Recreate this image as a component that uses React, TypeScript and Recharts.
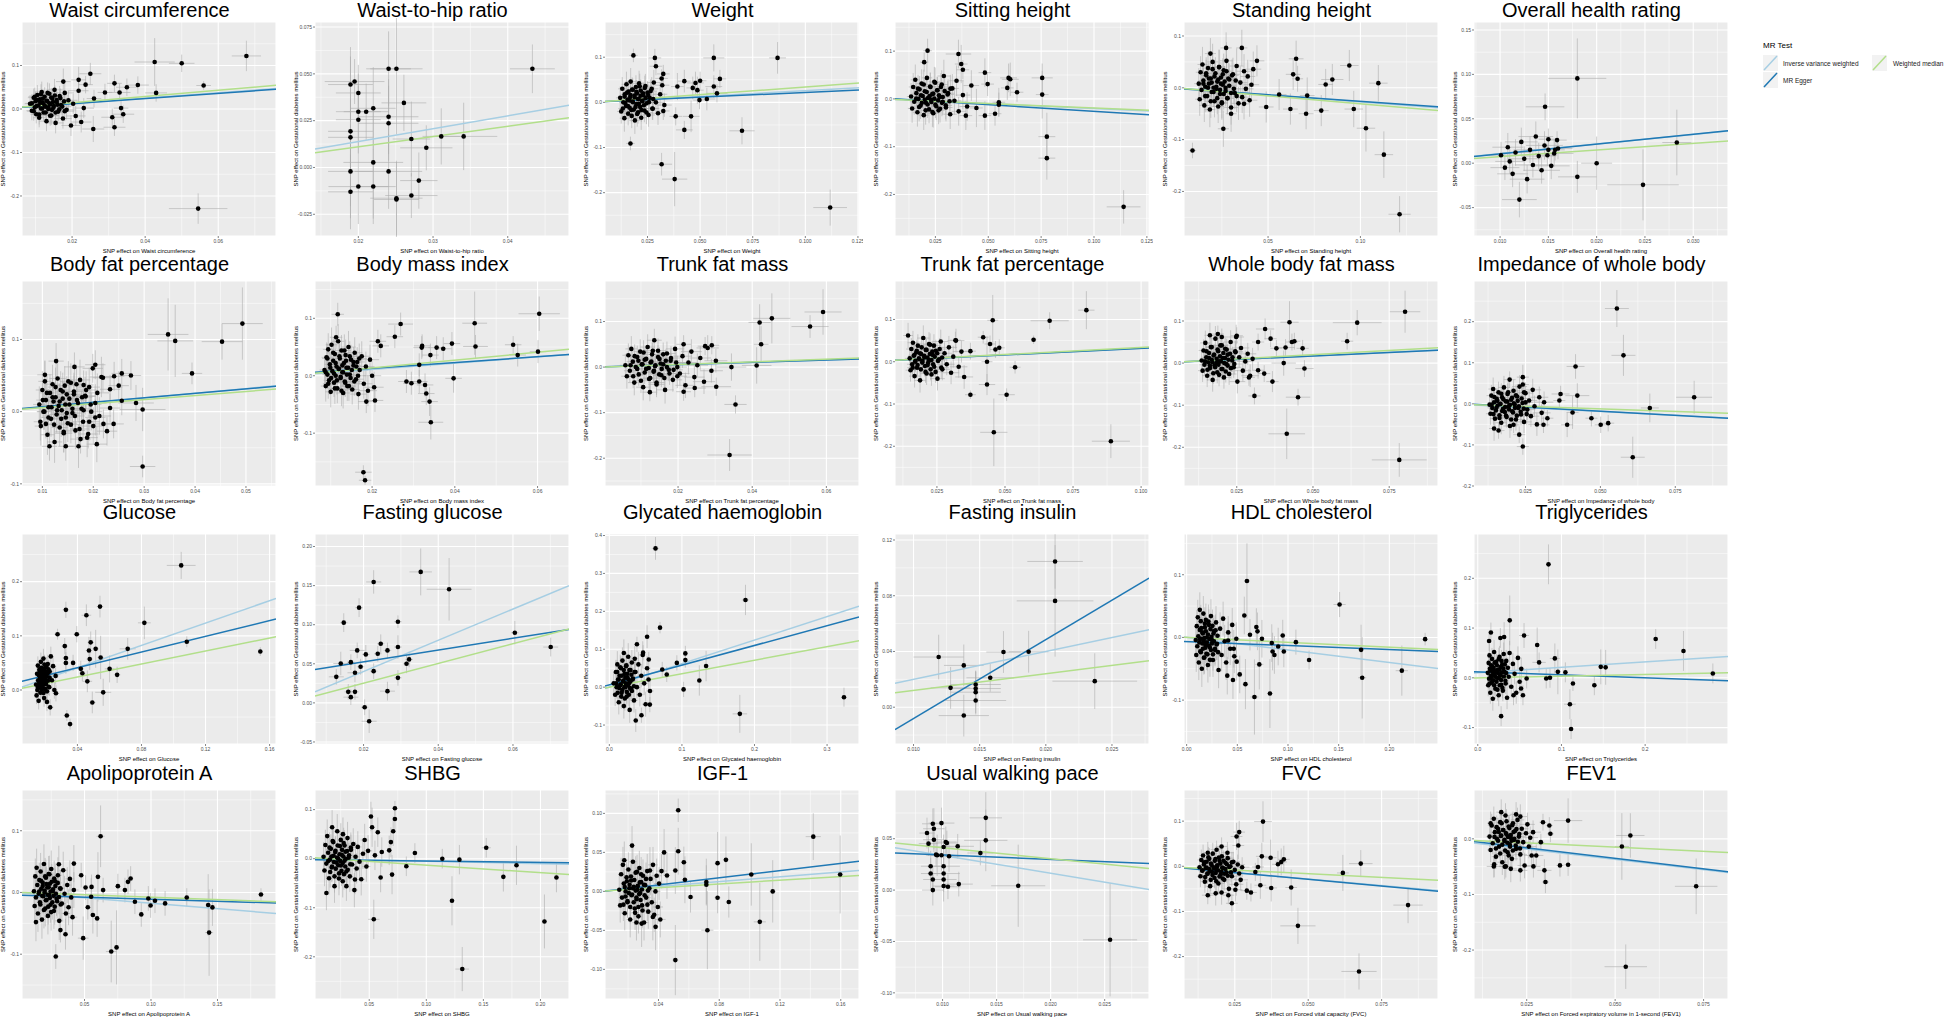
import React from "react";
import { CartesianGrid, ComposedChart, ErrorBar, ReferenceLine, Scatter, XAxis, YAxis } from "recharts";

// [beta exposure, beta outcome, se exposure, se outcome]
type Snp = [number, number, number, number];
type Fit = [number, number]; // slope, intercept

const titles = [
  "Waist circumference", "Waist-to-hip ratio", "Weight", "Sitting height", "Standing height", "Overall health rating",
  "Body fat percentage", "Body mass index", "Trunk fat mass", "Trunk fat percentage", "Whole body fat mass", "Impedance of whole body",
  "Glucose", "Fasting glucose", "Glycated haemoglobin", "Fasting insulin", "HDL cholesterol", "Triglycerides",
  "Apolipoprotein A", "SHBG", "IGF-1", "Usual walking pace", "FVC", "FEV1",
];

const exposureLabels = [
  "Waist circumference", "Waist-to-hip ratio", "Weight", "Sitting height", "Standing height", "Overall health rating",
  "Body fat percentage", "Body mass index", "Trunk fat percentage", "Trunk fat mass", "Whole body fat mass", "Impedance of whole body",
  "Glucose", "Fasting glucose", "Glycated haemoglobin", "Fasting insulin", "HDL cholesterol", "Triglycerides",
  "Apolipoprotein A", "SHBG", "IGF-1", "Usual walking pace", "Forced vital capacity (FVC)", "Forced expiratory volume in 1-second (FEV1)",
];

const outcomeLabel = "SNP effect on Gestational diabetes mellitus";

const xDomains: [number, number][] = [
  [0.0063, 0.0758], [0.0142, 0.0482], [0.0048, 0.1255], [0.0059, 0.126], [0.0045, 0.142], [0.0073, 0.0336],
  [0.006, 0.0559], [0.0062, 0.0676], [0.0003, 0.0688], [0.0096, 0.1029], [0.0077, 0.091], [0.0078, 0.0926],
  [0.0054, 0.164], [0.007, 0.075], [-0.006, 0.344], [0.0086, 0.0278], [-0.0026, 0.248], [-0.0045, 0.299],
  [0.003, 0.194], [0.0025, 0.225], [0.0048, 0.172], [0.0056, 0.0291], [0.0077, 0.0942], [0.0101, 0.0819],
];

const yDomains: [number, number][] = [
  [-0.292, 0.2], [-0.0366, 0.0777], [-0.296, 0.178], [-0.287, 0.161], [-0.286, 0.127], [-0.082, 0.159],
  [-0.103, 0.181], [-0.192, 0.165], [-0.261, 0.189], [-0.294, 0.191], [-0.292, 0.195], [-0.2, 0.299],
  [-0.0997, 0.288], [-0.0526, 0.216], [-0.15, 0.404], [-0.0264, 0.1243], [-0.17, 0.165], [-0.133, 0.289],
  [-0.1726, 0.166], [-0.286, 0.14], [-0.138, 0.13], [-0.106, 0.0974], [-0.294, 0.169], [-0.288, 0.0878],
];

const xTicks = [
  [0.02, 0.04, 0.06], [0.02, 0.03, 0.04], [0.025, 0.05, 0.075, 0.1, 0.125], [0.025, 0.05, 0.075, 0.1, 0.125], [0.05, 0.1], [0.01, 0.015, 0.02, 0.025, 0.03],
  [0.01, 0.02, 0.03, 0.04, 0.05], [0.02, 0.04, 0.06], [0.02, 0.04, 0.06], [0.025, 0.05, 0.075, 0.1], [0.025, 0.05, 0.075], [0.025, 0.05, 0.075],
  [0.04, 0.08, 0.12, 0.16], [0.02, 0.04, 0.06], [0, 0.1, 0.2, 0.3], [0.01, 0.015, 0.02, 0.025], [0, 0.05, 0.1, 0.15, 0.2], [0, 0.1, 0.2],
  [0.05, 0.1, 0.15], [0.05, 0.1, 0.15, 0.2], [0.04, 0.08, 0.12, 0.16], [0.01, 0.015, 0.02, 0.025], [0.025, 0.05, 0.075], [0.025, 0.05, 0.075],
];
const xDigits = [2, 2, 3, 3, 2, 3, 2, 2, 2, 3, 3, 3, 2, 2, 1, 3, 2, 1, 2, 2, 2, 3, 3, 3];

const yTicks = [
  [-0.2, -0.1, 0, 0.1], [-0.025, 0, 0.025, 0.05, 0.075], [-0.2, -0.1, 0, 0.1], [-0.2, -0.1, 0, 0.1], [-0.2, -0.1, 0, 0.1], [-0.05, 0, 0.05, 0.1, 0.15],
  [-0.1, 0, 0.1], [-0.1, 0, 0.1], [-0.2, -0.1, 0, 0.1], [-0.2, -0.1, 0, 0.1], [-0.2, -0.1, 0, 0.1], [-0.2, -0.1, 0, 0.1, 0.2],
  [0, 0.1, 0.2], [-0.05, 0, 0.05, 0.1, 0.15, 0.2], [-0.1, 0, 0.1, 0.2, 0.3, 0.4], [0, 0.04, 0.08, 0.12], [-0.1, 0, 0.1], [-0.1, 0, 0.1, 0.2],
  [-0.1, 0, 0.1], [-0.2, -0.1, 0, 0.1], [-0.1, -0.05, 0, 0.05, 0.1], [-0.1, -0.05, 0, 0.05], [-0.2, -0.1, 0, 0.1], [-0.2, -0.1, 0],
];
const yDigits = [1, 3, 1, 1, 1, 2, 1, 1, 1, 1, 1, 1, 1, 2, 1, 2, 1, 1, 1, 1, 2, 2, 1, 1];

const ivwFits: Fit[] = [
  [0.62, 0], [0.69, 0], [0.26, 0], [-0.2, 0], [-0.27, 0], [1.08, 0],
  [0.64, 0], [0.55, 0], [0.26, 0], [0.32, 0], [0.34, 0], [-0.37, 0],
  [1.03, 0], [2.0, 0], [0.62, 0], [2.0, 0], [-0.2, 0], [0.11, 0.01],
  [-0.175, 0], [-0.051, 0], [0.156, 0], [-1.73, 0.051], [-0.57, 0], [-0.74, 0],
];
const eggerFits: Fit[] = [
  [0.6, 0], [-1, 0.15], [0.21, 0.001], [-0.28, 0.002], [-0.25, -0.001], [1.1, -0.0005],
  [0.62, 0.0005], [0.5, 0.003], [0.25, 0.0005], [0.31, 0.0005], [0.33, 0.0005], [-0.4, 0.002],
  [0.725, 0.012], [0.754, 0.0374], [0.52, 0.006], [5.66, -0.0647], [-0.064, -0.0066], [-0.06, 0.012],
  [-0.065, -0.0045], [-0.027, -0.002], [0.23, -0.001], [-0.44, 0.0386], [-0.6, 0.001], [-0.76, 0.003],
];
const medianFits: Fit[] = [
  [0.72, 0], [0.55, 0], [0.34, 0], [-0.19, 0], [-0.31, 0], [0.74, 0],
  [0.56, 0], [0.68, 0], [0.29, 0], [0.34, 0], [0.4, 0], [-0.25, 0],
  [0.6, 0], [1.26, 0], [0.355, 0], [1.2, 0], [-0.078, 0], [0.034, 0],
  [-0.077, 0], [-0.155, 0.0024], [0.119, 0], [-1.055, 0.0517], [-0.33, 0], [-0.3, 0],
];

// dense cores of the instrument clouds
const waistCore: Snp[] = [
  [.009,.013,.0018,.02],[.0095,-.005,.0018,.022],[.0098,.028,.0018,.021],[.0103,.007,.0019,.02],[.0105,.0205,.0019,.022],[.011,-.0125,.0019,.023],[.0113,.0145,.0019,.02],[.0115,.034,.002,.023],[.0118,.001,.002,.021],[.012,.0235,.002,.022],[.0125,.0085,.002,.02],[.0128,-.008,.0021,.022],[.013,.019,.0021,.021],[.0133,.037,.0021,.024],[.0135,.004,.0021,.02],[.0138,.013,.0022,.021],[.014,-.0155,.0022,.023],[.0143,.0265,.0022,.022],[.0145,-.002,.0022,.021],[.0148,.016,.0023,.02],[.015,.007,.0023,.021],[.0153,.031,.0023,.023],[.0155,-.008,.0023,.022],[.0158,.0205,.0024,.021],[.016,.01,.0024,.02],[.0165,-.0005,.0024,.022],[.0168,.025,.0025,.022],[.0173,.0055,.0025,.021],[.0178,.0175,.0025,.022],[.018,-.005,.0026,.023],
];
const weightCore: Snp[] = [
  [.0133,-.0135,.0022,.026],[.0141,.0128,.0022,.024],[.0145,-.0013,.0023,.025],[.0153,.0215,.0023,.026],[.0157,-.0083,.0023,.024],[.0165,.004,.0024,.025],[.0169,.0163,.0024,.024],[.0173,-.017,.0024,.027],[.0177,.0285,.0025,.027],[.0181,.0005,.0025,.024],[.0189,.011,.0025,.025],[.0193,-.01,.0026,.024],[.0197,.0233,.0026,.026],[.0201,-.0258,.0026,.028],[.0205,.0075,.0026,.024],[.0209,-.003,.0027,.025],[.0213,.0355,.0027,.028],[.0217,.0145,.0027,.025],[.0221,-.017,.0027,.026],[.0225,.0023,.0028,.024],[.0229,.0198,.0028,.025],[.0233,-.0065,.0028,.024],[.0237,.032,.0029,.027],[.0241,.0093,.0029,.025],[.0245,-.0223,.0029,.026],[.0253,.0163,.003,.025],[.0257,.0005,.003,.024],[.0265,.025,.003,.026],[.0273,-.0135,.0031,.025],[.0277,.0075,.0031,.025],
];
const sittingCore: Snp[] = [
  [.0159,.0005,.0022,.028],[.0168,.0215,.0022,.029],[.0173,-.017,.0023,.03],[.0182,.0075,.0023,.027],[.0186,-.0083,.0023,.028],[.0195,.0303,.0024,.031],[.02,-.0013,.0024,.027],[.0204,-.024,.0024,.03],[.0209,.0145,.0025,.028],[.0213,-.0118,.0025,.028],[.0222,.0058,.0025,.027],[.0227,.025,.0026,.03],[.0231,-.0065,.0026,.028],[.0236,-.0275,.0026,.031],[.024,.011,.0026,.028],[.0245,.0005,.0027,.027],[.0249,.0338,.0027,.032],[.0254,-.0153,.0027,.029],[.0258,.018,.0028,.028],[.0263,-.003,.0028,.027],[.0267,.0075,.0028,.028],[.0272,-.0205,.0029,.029],[.0276,.025,.0029,.029],[.0281,-.0083,.0029,.028],[.0285,.004,.003,.027],[.0294,.0163,.003,.028],[.0299,-.0135,.003,.029],[.0308,.0093,.0031,.028],[.0317,-.0048,.0031,.028],[.0321,.0215,.0032,.029],
];
const standingCore: Snp[] = [
  [.015,.008,.0027,.03],[.016,-.016,.0027,.031],[.0165,.028,.0028,.031],[.0175,0,.0028,.029],[.018,.018,.0029,.03],[.019,-.026,.0029,.032],[.0195,.01,.0029,.03],[.02,.036,.003,.033],[.0205,-.008,.003,.029],[.021,.022,.003,.03],[.022,.002,.0031,.029],[.0225,-.02,.0031,.031],[.023,.016,.0031,.03],[.0235,.04,.0032,.034],[.024,-.004,.0032,.029],[.0245,.008,.0032,.03],[.025,-.03,.0033,.032],[.0255,.026,.0033,.031],[.026,-.012,.0033,.03],[.0265,.012,.0034,.03],[.027,0,.0034,.029],[.0275,.032,.0034,.032],[.028,-.02,.0035,.031],[.0285,.018,.0035,.03],[.029,.004,.0035,.029],[.03,-.01,.0036,.03],[.0305,.024,.0036,.031],[.0315,-.002,.0037,.03],[.0325,.014,.0037,.03],[.033,-.016,.0038,.031],
];
const bodyFatCore: Snp[] = [
  [.0096,-.014,.0013,.026],[.0101,.016,.0013,.025],[.0104,0,.0014,.025],[.0109,.026,.0014,.026],[.0112,-.008,.0014,.025],[.0118,.006,.0015,.025],[.012,.02,.0015,.025],[.0123,-.018,.0015,.026],[.0126,.034,.0015,.027],[.0129,.002,.0016,.025],[.0134,.014,.0016,.025],[.0137,-.01,.0016,.025],[.014,.028,.0016,.026],[.0142,-.028,.0017,.028],[.0145,.01,.0017,.025],[.0148,-.002,.0017,.025],[.0151,.042,.0017,.028],[.0153,.018,.0018,.025],[.0156,-.018,.0018,.026],[.0159,.004,.0018,.025],[.0162,.024,.0018,.026],[.0164,-.006,.0019,.025],[.0167,.038,.0019,.027],[.017,.012,.0019,.025],[.0173,-.024,.0019,.027],[.0178,.02,.002,.025],[.0181,.002,.002,.025],[.0186,.03,.002,.026],[.0192,-.014,.0021,.026],[.0195,.01,.0021,.025],
];
const bmiCore: Snp[] = [
  [.0088,.006,.0012,.025],[.0092,.03,.0013,.026],[.0094,-.014,.0013,.026],[.0099,.014,.0013,.025],[.0101,-.004,.0013,.025],[.0106,.04,.0014,.027],[.0108,.004,.0014,.025],[.011,-.022,.0014,.027],[.0112,.022,.0014,.025],[.0115,-.008,.0015,.025],[.0119,.012,.0015,.025],[.0121,.034,.0015,.026],[.0124,-.002,.0015,.025],[.0126,-.026,.0016,.027],[.0128,.018,.0016,.025],[.013,.006,.0016,.025],[.0133,.044,.0016,.028],[.0135,-.012,.0016,.025],[.0137,.026,.0017,.026],[.0139,.002,.0017,.025],[.0142,.014,.0017,.025],[.0144,-.018,.0017,.026],[.0146,.034,.0017,.026],[.0148,-.004,.0018,.025],[.0151,.01,.0018,.025],[.0155,.024,.0018,.026],[.0157,-.01,.0018,.025],[.0162,.016,.0019,.025],[.0166,0,.0019,.025],[.0169,.03,.0019,.026],
];
const trunkMassCore: Snp[] = [
  [.0072,.004,.0016,.025],[.0079,-.02,.0017,.026],[.0083,.024,.0017,.026],[.009,-.004,.0017,.025],[.0093,.014,.0018,.025],[.01,-.03,.0018,.027],[.0104,.006,.0018,.025],[.0107,.032,.0019,.027],[.011,-.012,.0019,.025],[.0114,.018,.0019,.025],[.0121,-.002,.002,.025],[.0125,-.024,.002,.026],[.0128,.012,.002,.025],[.0132,.036,.0021,.027],[.0135,-.008,.0021,.025],[.0139,.004,.0021,.025],[.0142,-.034,.0022,.027],[.0146,.022,.0022,.026],[.0149,-.016,.0022,.025],[.0153,.008,.0023,.025],[.0156,-.004,.0023,.025],[.016,.028,.0023,.026],[.0163,-.024,.0024,.026],[.0167,.014,.0024,.025],[.017,0,.0024,.025],[.0177,-.014,.0025,.025],[.0181,.02,.0025,.026],[.0188,-.006,.0025,.025],[.0195,.01,.0026,.025],[.0198,-.02,.0026,.026],
];
const trunkPctCore: Snp[] = [
  [.0161,-.014,.002,.026],[.0167,.016,.002,.025],[.017,0,.0021,.025],[.0176,.026,.0021,.026],[.0179,-.008,.0021,.025],[.0185,.006,.0022,.025],[.0188,.02,.0022,.025],[.0191,-.018,.0022,.026],[.0194,.034,.0022,.027],[.0197,.002,.0023,.025],[.0203,.014,.0023,.025],[.0206,-.01,.0023,.025],[.0209,.028,.0024,.026],[.0212,-.028,.0024,.027],[.0215,.01,.0024,.025],[.0218,-.002,.0024,.025],[.0221,.042,.0025,.028],[.0224,.018,.0025,.025],[.0227,-.018,.0025,.026],[.023,.004,.0025,.025],[.0233,.024,.0026,.026],[.0236,-.006,.0026,.025],[.0239,.038,.0026,.027],[.0242,.012,.0026,.025],[.0245,-.024,.0027,.026],[.0251,.02,.0027,.025],[.0254,.002,.0027,.025],[.026,.03,.0028,.026],[.0266,-.014,.0028,.026],[.0269,.01,.0028,.025],
];
const wholeFatCore: Snp[] = [
  [.0146,.004,.0017,.025],[.0151,.028,.0017,.026],[.0154,-.016,.0017,.026],[.0159,.012,.0018,.025],[.0162,-.006,.0018,.025],[.0168,.038,.0019,.027],[.017,.002,.0019,.025],[.0173,-.024,.0019,.026],[.0176,.02,.0019,.025],[.0179,-.01,.002,.025],[.0184,.01,.002,.025],[.0187,.032,.002,.026],[.019,-.004,.0021,.025],[.0192,-.028,.0021,.027],[.0195,.016,.0021,.025],[.0198,.004,.0021,.025],[.0201,.042,.0022,.028],[.0203,-.014,.0022,.025],[.0206,.024,.0022,.026],[.0209,0,.0022,.025],[.0212,.012,.0023,.025],[.0214,-.02,.0023,.026],[.0217,.032,.0023,.026],[.022,-.006,.0023,.025],[.0223,.008,.0024,.025],[.0228,.022,.0024,.025],[.0231,-.012,.0024,.025],[.0236,.014,.0025,.025],[.0242,-.002,.0025,.025],[.0245,.028,.0025,.026],
];
const impedanceCore: Snp[] = [
  [.0137,-.0022,.0016,.025],[.0143,-.025,.0016,.026],[.0146,.0168,.0017,.025],[.0153,-.0098,.0017,.025],[.0156,.0073,.0017,.025],[.0163,-.0345,.0018,.027],[.0166,-.0003,.0018,.025],[.0169,.0244,.0018,.026],[.0172,-.0174,.0019,.025],[.0176,.0111,.0019,.025],[.0182,-.0079,.0019,.025],[.0185,-.0288,.002,.026],[.0189,.0054,.002,.025],[.0192,.0282,.002,.027],[.0195,-.0136,.0021,.025],[.0198,-.0022,.0021,.025],[.0202,-.0383,.0021,.027],[.0205,.0149,.0022,.025],[.0208,-.0212,.0022,.026],[.0211,.0016,.0022,.025],[.0215,-.0098,.0023,.025],[.0218,.0206,.0023,.026],[.0221,-.0288,.0023,.026],[.0224,.0073,.0024,.025],[.0228,-.006,.0024,.025],[.0234,-.0193,.0024,.025],[.0237,.013,.0025,.025],[.0244,-.0117,.0025,.025],[.025,.0035,.0026,.025],[.0254,-.025,.0026,.026],
];
const glucoseCore: Snp[] = [
  [.0154,.005,.0013,.016],[.0158,.0275,.0013,.016],[.016,.0155,.0014,.015],[.0164,.035,.0014,.017],[.0166,.0095,.0014,.015],[.017,.02,.0015,.016],[.0172,.0305,.0015,.016],[.0174,.002,.0015,.016],[.0176,.041,.0015,.017],[.0178,.017,.0015,.015],[.0182,.026,.0016,.016],[.0184,.008,.0016,.015],[.0186,.0365,.0016,.017],[.0188,-.0055,.0016,.016],[.019,.023,.0016,.015],[.0192,.014,.0017,.016],[.0194,.047,.0017,.018],[.0196,.029,.0017,.016],[.0198,.002,.0017,.016],[.02,.0185,.0017,.015],[.0202,.0335,.0018,.016],[.0204,.011,.0018,.015],[.0206,.044,.0018,.017],[.0208,.0245,.0018,.016],[.021,-.0025,.0018,.016],[.0214,.0305,.0019,.016],[.0216,.017,.0019,.015],[.022,.038,.0019,.017],[.0224,.005,.0019,.016],[.0226,.023,.002,.016],
];
const hba1cCore: Snp[] = [
  [.0094,.01,.003,.03],[.0108,.04,.003,.031],[.0115,-.015,.003,.031],[.0129,.02,.0031,.03],[.0136,-.0025,.0031,.03],[.015,.0525,.0032,.033],[.0157,.0075,.0032,.03],[.0164,-.025,.0032,.032],[.0171,.03,.0033,.03],[.0178,-.0075,.0033,.03],[.0192,.0175,.0034,.03],[.0199,.045,.0034,.031],[.0206,0,.0035,.03],[.0213,-.03,.0035,.032],[.022,.025,.0035,.03],[.0227,.01,.0036,.03],[.0234,.0575,.0036,.033],[.0241,-.0125,.0036,.031],[.0248,.035,.0037,.03],[.0255,.005,.0037,.03],[.0262,.02,.0038,.03],[.0269,-.02,.0038,.031],[.0276,.045,.0038,.031],[.0283,-.0025,.0039,.03],[.029,.015,.0039,.03],[.0304,.0325,.004,.03],[.0311,-.01,.004,.03],[.0325,.0225,.0041,.03],[.0339,.0025,.0042,.03],[.0346,.04,.0042,.031],
];
const hdlCore: Snp[] = [
  [.013,-.0025,.0017,.025],[.014,-.0235,.0018,.026],[.0145,.015,.0018,.026],[.0155,-.0095,.0019,.025],[.016,.0063,.0019,.025],[.017,-.0323,.002,.027],[.0175,-.0008,.002,.025],[.018,.022,.0021,.026],[.0185,-.0165,.0021,.025],[.019,.0098,.0021,.025],[.02,-.0078,.0022,.025],[.0205,-.027,.0022,.026],[.021,.0045,.0022,.025],[.0215,.0255,.0023,.027],[.022,-.013,.0023,.025],[.0225,-.0025,.0023,.025],[.023,-.0358,.0024,.027],[.0235,.0133,.0024,.025],[.024,-.02,.0024,.026],[.0245,.001,.0025,.025],[.025,-.0095,.0025,.025],[.0255,.0185,.0025,.026],[.026,-.027,.0026,.026],[.0265,.0063,.0026,.025],[.027,-.006,.0026,.025],[.028,-.0183,.0027,.025],[.0285,.0115,.0027,.025],[.0295,-.0113,.0028,.025],[.0305,.0028,.0028,.025],[.031,-.0235,.0029,.026],
];
const trigCore: Snp[] = [
  [.0141,-.0115,.002,.021],[.0152,.0148,.002,.021],[.0158,.0008,.002,.02],[.0169,.0235,.0021,.022],[.0174,-.0063,.0021,.02],[.0185,.006,.0021,.02],[.019,.0183,.0022,.021],[.0196,-.015,.0022,.021],[.0202,.0305,.0022,.022],[.0207,.0025,.0023,.02],[.0218,.013,.0023,.021],[.0224,-.008,.0023,.02],[.0229,.0253,.0024,.022],[.0235,-.0238,.0024,.022],[.024,.0095,.0024,.02],[.0246,-.001,.0025,.02],[.0251,.0375,.0025,.023],[.0257,.0165,.0025,.021],[.0262,-.015,.0026,.021],[.0268,.0043,.0026,.02],[.0273,.0218,.0026,.021],[.0279,-.0045,.0027,.02],[.0284,.034,.0027,.022],[.029,.0113,.0027,.021],[.0295,-.0203,.0028,.021],[.0306,.0183,.0028,.021],[.0312,.0025,.0029,.02],[.0323,.027,.0029,.022],[.0334,-.0115,.003,.021],[.0339,.0095,.003,.021],
];
const apoaCore: Snp[] = [
  [.0159,.0015,.0021,.028],[.0168,-.0195,.0021,.029],[.0173,.019,.0022,.029],[.0182,-.0055,.0022,.028],[.0186,.0103,.0022,.028],[.0195,-.0283,.0023,.03],[.02,.0033,.0023,.028],[.0204,.026,.0023,.03],[.0209,-.0125,.0024,.028],[.0213,.0138,.0024,.028],[.0222,-.0038,.0024,.028],[.0227,-.023,.0025,.029],[.0231,.0085,.0025,.028],[.0236,.0295,.0025,.03],[.024,-.009,.0026,.028],[.0245,.0015,.0026,.028],[.0249,-.0318,.0026,.03],[.0254,.0173,.0027,.029],[.0258,-.016,.0027,.028],[.0263,.005,.0027,.028],[.0267,-.0055,.0028,.028],[.0272,.0225,.0028,.029],[.0276,-.023,.0028,.029],[.0281,.0103,.0029,.028],[.0285,-.002,.0029,.028],[.0294,-.0143,.003,.028],[.0299,.0155,.003,.029],[.0308,-.0073,.0031,.028],[.0317,.0068,.0031,.028],[.0321,-.0195,.0032,.029],
];
const shbgCore: Snp[] = [
  [.0141,-.0045,.0021,.03],[.0152,.0225,.0022,.031],[.0158,-.027,.0022,.032],[.0169,.0045,.0022,.03],[.0174,-.0158,.0023,.03],[.0185,.0338,.0023,.033],[.019,-.0068,.0023,.03],[.0196,-.036,.0024,.033],[.0202,.0135,.0024,.03],[.0207,-.0203,.0024,.031],[.0218,.0023,.0025,.03],[.0224,.027,.0025,.031],[.0229,-.0135,.0025,.03],[.0235,-.0405,.0026,.034],[.024,.009,.0026,.03],[.0246,-.0045,.0026,.03],[.0251,.0383,.0027,.034],[.0257,-.0248,.0027,.031],[.0262,.018,.0027,.03],[.0268,-.009,.0028,.03],[.0273,.0045,.0028,.03],[.0279,-.0315,.0028,.032],[.0284,.027,.0029,.031],[.029,-.0158,.0029,.03],[.0295,0,.0029,.03],[.0306,.0158,.003,.03],[.0312,-.0225,.003,.031],[.0323,.0068,.0031,.03],[.0334,-.0113,.0031,.03],[.0339,.0225,.0032,.031],
];
const igfCore: Snp[] = [
  [.0169,-.017,.0021,.021],[.0178,.0055,.0022,.02],[.0183,-.0065,.0022,.02],[.0192,.013,.0022,.021],[.0196,-.0125,.0023,.02],[.0205,-.002,.0023,.02],[.021,.0085,.0023,.02],[.0214,-.02,.0024,.021],[.0219,.019,.0024,.022],[.0223,-.005,.0024,.02],[.0232,.004,.0025,.02],[.0237,-.014,.0025,.021],[.0241,.0145,.0025,.021],[.0246,-.0275,.0026,.022],[.025,.001,.0026,.02],[.0255,-.008,.0026,.02],[.0259,.025,.0027,.022],[.0264,.007,.0027,.02],[.0268,-.02,.0027,.021],[.0273,-.0035,.0028,.02],[.0277,.0115,.0028,.021],[.0282,-.011,.0028,.02],[.0286,.022,.0029,.022],[.0291,.0025,.0029,.02],[.0295,-.0245,.0029,.022],[.0304,.0085,.003,.02],[.0309,-.005,.003,.02],[.0318,.016,.0031,.021],[.0327,-.017,.0031,.021],[.0331,.001,.0032,.02],
];
const fvcCore: Snp[] = [
  [.014,-.009,.0013,.022],[.0146,.009,.0013,.023],[.0149,-.024,.0014,.024],[.0154,-.003,.0014,.022],[.0157,-.0165,.0014,.022],[.0163,.0165,.0015,.024],[.0165,-.0105,.0015,.022],[.0168,-.03,.0015,.025],[.0171,.003,.0016,.022],[.0174,-.0195,.0016,.023],[.0179,-.0045,.0016,.022],[.0182,.012,.0017,.023],[.0185,-.015,.0017,.022],[.0187,-.033,.0017,.025],[.019,0,.0017,.022],[.0193,-.009,.0018,.022],[.0196,.0195,.0018,.024],[.0198,-.0225,.0018,.023],[.0201,.006,.0019,.022],[.0204,-.012,.0019,.022],[.0207,-.003,.0019,.022],[.0209,-.027,.0019,.024],[.0212,.012,.002,.023],[.0215,-.0165,.002,.022],[.0218,-.006,.002,.022],[.0223,.0045,.0021,.022],[.0226,-.021,.0021,.023],[.0231,-.0015,.0021,.022],[.0237,-.0135,.0022,.022],[.024,.009,.0022,.023],
];
const fev1Core: Snp[] = [
  [.0159,.0035,.0011,.021],[.0163,-.0175,.0012,.021],[.0165,.021,.0012,.021],[.0169,-.0035,.0012,.02],[.0171,.0123,.0013,.02],[.0175,-.0263,.0013,.022],[.0177,.0053,.0013,.02],[.0179,.028,.0013,.022],[.0181,-.0105,.0014,.02],[.0183,.0158,.0014,.021],[.0187,-.0018,.0014,.02],[.0189,-.021,.0015,.021],[.0191,.0105,.0015,.02],[.0193,.0315,.0015,.022],[.0195,-.007,.0015,.02],[.0197,.0035,.0016,.02],[.0199,-.0298,.0016,.022],[.0201,.0193,.0016,.021],[.0203,-.014,.0016,.02],[.0205,.007,.0017,.02],[.0207,-.0035,.0017,.02],[.0209,.0245,.0017,.021],[.0211,-.021,.0017,.021],[.0213,.0123,.0018,.02],[.0215,0,.0018,.02],[.0219,-.0123,.0018,.02],[.0221,.0175,.0019,.021],[.0225,-.0053,.0019,.02],[.0229,.0088,.0019,.02],[.0231,-.0175,.002,.021],
];

const waistSnps: Snp[] = [
  [.0085,.012,.0015,.02],[.009,-.004,.0015,.022],[.0095,.026,.0016,.021],[.0098,.004,.0015,.02],[.01,.018,.0016,.022],[.0102,-.012,.0016,.021],[.0105,.032,.0017,.023],[.0108,.008,.0017,.02],[.011,-.02,.0017,.022],[.0112,.022,.0018,.021],[.0115,.001,.0018,.02],[.0117,.039,.0018,.024],[.012,.014,.0018,.021],[.0122,-.008,.0019,.022],[.0125,.028,.0019,.022],[.0127,.005,.0019,.021],[.013,-.028,.002,.023],[.0132,.018,.002,.021],[.0135,0,.002,.022],[.0138,.035,.002,.024],[.014,.011,.0021,.021],[.0143,-.015,.0021,.022],[.0146,.024,.0021,.022],[.0149,.003,.0022,.021],[.0152,.044,.0022,.025],[.0155,-.032,.0022,.024],[.0158,.016,.0023,.022],[.0162,-.006,.0023,.022],[.0166,.03,.0023,.023],[.017,.009,.0024,.022],[.0175,-.022,.0024,.023],[.018,.037,.0025,.024],[.0185,-.002,.0025,.022],[.019,.02,.0025,.023],[.0197,-.038,.0026,.024],[.0203,.012,.0026,.023],[.021,-.016,.0027,.023],[.0218,.042,.0027,.025],[.0225,-.03,.0028,.024],[.0232,.002,.0028,.023],
  [.0426,.108,.0055,.055],[.05,.105,.0035,.02],[.0677,.122,.004,.035],[.056,.054,.002,.01],[.043,.037,.003,.02],[.0545,-.229,.008,.035],[.038,.055,.003,.02],[.035,.05,.003,.02],[.0316,.059,.002,.02],[.033,.038,.003,.02],[.029,.038,.002,.02],[.026,.024,.002,.02],[.0334,.002,.002,.02],[.034,-.012,.003,.02],[.031,-.019,.003,.02],[.0316,-.042,.003,.02],[.0258,-.046,.003,.03],[.025,.081,.003,.025],[.0218,.067,.002,.03],[.0176,.063,.002,.03],[.0237,.056,.002,.02],
];

const whrSnps: Snp[] = [
  [.01895,.0443,.003,.02],[.02,.0398,.003,.015],[.0195,.0459,.004,.012],[.02405,.0527,.003,.02],[.0251,.0527,.0035,.035],[.01895,.0193,.003,.04],[.01895,.0161,.003,.02],[.02,.0298,.003,.02],[.02105,.0298,.003,.015],[.02,.0255,.003,.018],[.022,.0316,.003,.022],[.02405,.0271,.004,.02],[.02405,.0236,.004,.02],[.0261,.0345,.003,.015],[.0271,.0152,.0025,.02],[.0291,.0105,.0035,.012],[.0311,.0166,.0025,.015],[.0341,.0166,.0045,.018],[.01895,-.0021,.003,.025],[.02,-.0102,.004,.02],[.022,.0027,.004,.03],[.022,-.0102,.003,.02],[.02405,-.0021,.0045,.02],[.0281,-.007,.0025,.015],[.0271,-.015,.0035,.012],[.0251,-.0164,.0035,.02],[.0251,-.0171,.003,.02],[.01895,-.013,.003,.02],[.0433,.0527,.003,.013],
];

const weightSnps: Snp[] = [
  [.012,.01,.002,.025],[.0125,-.02,.002,.027],[.013,.03,.002,.026],[.0135,0,.002,.024],[.014,-.035,.0022,.03],[.0142,.018,.0022,.025],[.0148,-.008,.0022,.024],[.015,.04,.0023,.028],[.0155,.006,.0023,.024],[.0158,-.025,.0023,.026],[.016,.024,.0024,.025],[.0165,-.012,.0024,.024],[.0168,.012,.0024,.024],[.017,.046,.0025,.03],[.0175,-.03,.0025,.027],[.0178,.002,.0025,.024],[.018,.028,.0025,.025],[.0185,-.016,.0026,.025],[.0188,.015,.0026,.024],[.019,-.04,.0026,.03],[.0195,.034,.0026,.026],[.0198,-.004,.0027,.024],[.02,.02,.0027,.025],[.0205,-.022,.0027,.025],[.0208,.008,.0027,.024],[.021,.042,.0028,.028],[.0215,-.01,.0028,.024],[.0218,.026,.0028,.025],[.022,-.034,.0028,.027],[.0225,.004,.0029,.024],[.023,.016,.0029,.025],[.0235,-.018,.003,.026],[.024,.036,.003,.027],[.0245,-.002,.003,.024],[.025,.022,.003,.025],[.0255,-.028,.0031,.026],[.026,.01,.0031,.025],[.027,.03,.0032,.026],[.0275,-.014,.0032,.025],[.028,.044,.0032,.028],[.029,0,.0033,.025],[.03,-.024,.0033,.026],[.031,.018,.0034,.026],[.032,.038,.0034,.028],[.033,-.006,.0035,.026],
  [.0183,.104,.002,.015],[.0285,.0985,.003,.02],[.029,.08,.003,.02],[.0325,.063,.003,.02],[.0317,.053,.003,.02],[.0425,.047,.003,.025],[.0392,.035,.003,.03],[.0465,.032,.003,.025],[.05,.048,.003,.02],[.0565,.0985,.005,.03],[.0565,.035,.004,.025],[.0594,.052,.003,.02],[.058,.02,.005,.02],[.0478,.043,.004,.025],[.0487,.027,.003,.03],[.0532,.0074,.004,.025],[.0497,.005,.003,.02],[.0384,-.031,.003,.02],[.0457,-.031,.004,.035],[.0425,-.061,.004,.02],[.0325,-.019,.003,.02],[.0868,.0985,.004,.035],[.0699,-.063,.006,.03],[.0169,-.091,.002,.015],[.0317,-.137,.005,.025],[.0379,-.17,.006,.06],[.1118,-.233,.008,.04],
];

const sittingSnps: Snp[] = [
  [.0135,.005,.002,.028],[.014,-.02,.002,.03],[.0145,.025,.0021,.029],[.015,-.006,.0021,.027],[.0155,.04,.0022,.032],[.016,.012,.0022,.028],[.0165,-.028,.0022,.03],[.017,0,.0023,.027],[.0175,.02,.0023,.028],[.018,-.014,.0023,.028],[.0185,.032,.0024,.03],[.019,.006,.0024,.027],[.0195,-.034,.0024,.031],[.02,.016,.0025,.028],[.0205,-.008,.0025,.027],[.021,.044,.0025,.032],[.0215,.002,.0025,.027],[.022,-.022,.0026,.029],[.0225,.026,.0026,.029],[.023,-.002,.0026,.027],[.0235,.01,.0027,.028],[.024,-.03,.0027,.03],[.0245,.036,.0027,.031],[.025,-.012,.0028,.028],[.026,.018,.0028,.028],[.0265,-.024,.0029,.029],[.027,.004,.0029,.028],[.028,.03,.003,.03],[.0285,-.006,.003,.028],[.029,.048,.003,.034],[.03,-.018,.0031,.029],[.031,.012,.0031,.029],[.032,-.032,.0032,.031],[.033,.022,.0032,.03],[.034,-.004,.0033,.029],[.035,.038,.0034,.032],[.036,-.026,.0034,.03],[.038,.008,.0035,.03],[.04,-.016,.0036,.03],[.042,.028,.0037,.032],
  [.0213,.101,.002,.025],[.0197,.077,.002,.02],[.0359,.094,.006,.03],[.0372,.073,.003,.04],[.038,.061,.003,.02],[.0484,.055,.003,.03],[.0497,.031,.003,.025],[.0596,.044,.004,.03],[.0604,.041,.004,.035],[.059,.023,.003,.025],[.0636,.014,.003,.02],[.055,-.007,.003,.03],[.055,-.012,.003,.025],[.0444,-.019,.003,.04],[.0532,-.031,.003,.025],[.0484,-.035,.003,.03],[.0394,-.035,.003,.03],[.0755,.044,.005,.03],[.0755,.009,.003,.05],[.0777,-.079,.004,.05],[.0777,-.124,.004,.045],[.114,-.226,.008,.035],
];

const standingSnps: Snp[] = [
  [.0125,.008,.0025,.03],[.013,-.022,.0025,.032],[.0135,.03,.0026,.031],[.014,-.004,.0026,.029],[.0145,.045,.0027,.034],[.015,.014,.0027,.03],[.0155,-.034,.0027,.032],[.016,.002,.0028,.029],[.0165,.024,.0028,.03],[.017,-.016,.0028,.03],[.0175,.038,.0029,.032],[.018,.008,.0029,.029],[.0185,-.042,.003,.034],[.019,.018,.003,.03],[.0195,-.008,.003,.029],[.02,.05,.003,.035],[.0205,0,.0031,.029],[.021,-.026,.0031,.031],[.0215,.028,.0031,.031],[.022,-.002,.0032,.029],[.0225,.012,.0032,.03],[.023,-.036,.0032,.032],[.0235,.04,.0033,.033],[.024,-.012,.0033,.03],[.0245,.02,.0033,.03],[.025,-.028,.0034,.031],[.0255,.006,.0034,.03],[.026,.034,.0035,.032],[.027,-.006,.0035,.03],[.0275,.052,.0035,.036],[.028,-.02,.0036,.031],[.029,.016,.0036,.031],[.03,-.038,.0037,.033],[.031,.026,.0037,.032],[.032,-.01,.0038,.031],[.033,.042,.0038,.034],[.034,-.03,.0039,.032],[.035,.01,.0039,.031],[.036,-.018,.004,.031],[.037,.032,.004,.033],[.038,-.002,.0041,.031],[.039,.022,.0041,.032],[.04,-.024,.0042,.032],[.041,.006,.0042,.031],[.042,.036,.0043,.034],
  [.0188,.066,.003,.03],[.0273,.077,.003,.03],[.0358,.077,.003,.035],[.044,.052,.004,.03],[.0652,.056,.004,.035],[.0636,.026,.004,.03],[.066,.0174,.003,.025],[.0848,.016,.006,.03],[.0812,.0065,.004,.03],[.094,.043,.005,.03],[.1097,.009,.005,.035],[.056,-.013,.004,.03],[.0712,-.015,.004,.035],[.0621,-.041,.004,.03],[.0706,-.05,.004,.03],[.0788,-.044,.004,.03],[.0964,-.041,.005,.035],[.103,-.078,.005,.045],[.1127,-.129,.005,.045],[.0258,-.079,.003,.035],[.0091,-.121,.002,.015],[.049,-.037,.004,.03],[.037,-.031,.003,.03],[.03,-.05,.003,.035],[.1212,-.244,.006,.035],
];

const healthSnps: Snp[] = [
  [.0101,.009,.0015,.015],[.0105,-.005,.0015,.014],[.0108,.018,.0016,.016],[.011,.002,.0015,.014],[.0113,-.012,.0016,.015],[.0116,.012,.0016,.015],[.012,-.041,.0018,.02],[.0122,.024,.0017,.016],[.0125,.005,.0017,.014],[.0128,-.018,.0018,.016],[.0131,.015,.0017,.015],[.0134,-.002,.0018,.014],[.0137,.03,.0018,.017],[.014,.008,.0018,.015],[.0143,-.008,.0019,.015],[.0146,.02,.0019,.016],[.0153,-.003,.0019,.015],[.0156,.011,.002,.015],
  [.018,.0955,.003,.045],[.01466,.0635,.002,.015],[.015,.027,.001,.012],[.0159,.026,.001,.01],[.015,.015,.001,.01],[.0157,.015,.001,.012],[.016,.0165,.0015,.012],[.0149,.009,.001,.012],[.02,0,.0016,.03],[.018,-.0154,.002,.018],[.0248,-.0244,.0037,.04],[.0283,.0233,.0015,.037],
];

const bodyFatSnps: Snp[] = [
  [.0094,.01,.0012,.025],[.0097,-.02,.0012,.027],[.01,.03,.0013,.026],[.0102,0,.0013,.025],[.0105,.042,.0013,.028],[.0107,.016,.0013,.025],[.011,-.032,.0014,.028],[.0112,.006,.0014,.025],[.0115,.026,.0014,.026],[.0117,-.01,.0014,.025],[.012,.038,.0015,.027],[.0122,.014,.0015,.025],[.0124,-.042,.0015,.029],[.0126,.02,.0015,.025],[.0128,-.004,.0015,.025],[.013,.046,.0016,.028],[.0132,.008,.0016,.025],[.0134,-.022,.0016,.026],[.0136,.03,.0016,.026],[.0138,.002,.0016,.025],[.014,.018,.0017,.025],[.0142,-.03,.0017,.027],[.0144,.036,.0017,.027],[.0146,-.008,.0017,.025],[.0148,.024,.0017,.025],[.015,-.016,.0018,.026],[.0153,.01,.0018,.025],[.0156,.04,.0018,.027],[.0159,-.002,.0018,.025],[.0162,.028,.0019,.026],[.0165,-.026,.0019,.026],[.0168,.016,.0019,.025],[.0171,-.048,.002,.03],[.0174,.044,.002,.028],[.0177,.004,.002,.025],[.018,-.014,.002,.026],[.0184,.022,.0021,.026],[.0188,-.036,.0021,.027],[.0192,.034,.0021,.027],[.0196,0,.0022,.026],[.02,-.02,.0022,.026],[.0204,.012,.0022,.026],[.0208,.026,.0023,.027],[.0212,-.006,.0023,.026],[.0216,.048,.0023,.028],
  [.0127,.07,.0015,.025],[.0347,.107,.004,.05],[.0361,.098,.0035,.05],[.0394,.053,.002,.015],[.0453,.097,.004,.025],[.0493,.122,.004,.05],[.0297,-.076,.0025,.015],[.0297,.003,.0045,.03],[.0284,.012,.0035,.025],[.0274,.05,.002,.02],[.0256,.053,.002,.02],[.0241,.049,.002,.02],[.025,.036,.002,.02],[.0233,.031,.002,.02],[.0219,.047,.002,.02],[.0204,.065,.002,.02],[.0199,.06,.002,.02],[.0181,.037,.002,.02],[.0163,.062,.002,.02],[.0185,.021,.002,.02],[.0204,-.008,.002,.025],[.022,-.017,.002,.02],[.024,-.017,.002,.02],[.0227,-.027,.002,.02],[.0207,-.045,.002,.025],[.019,-.031,.002,.02],[.0175,-.038,.002,.02],[.0114,-.048,.0015,.02],[.0146,-.048,.0015,.02],[.0107,-.017,.0015,.02],[.0105,.051,.0015,.02],[.0256,.015,.002,.02],[.0233,.005,.002,.02],
];

const bmiSnps: Snp[] = [
  [.0085,.01,.0012,.025],[.0088,-.018,.0012,.027],[.009,.032,.0012,.026],[.0092,.002,.0012,.025],[.0094,.046,.0013,.028],[.0096,-.008,.0013,.025],[.0098,.02,.0013,.025],[.01,-.028,.0013,.027],[.0102,.054,.0014,.03],[.0104,.008,.0014,.025],[.0106,.026,.0014,.026],[.0108,-.012,.0014,.025],[.011,.038,.0014,.027],[.0112,0,.0015,.025],[.0114,.016,.0015,.025],[.0116,-.022,.0015,.026],[.0118,.06,.0015,.03],[.012,.012,.0015,.025],[.0122,.03,.0016,.026],[.0124,-.004,.0016,.025],[.0126,.044,.0016,.027],[.0128,.006,.0016,.025],[.013,-.03,.0016,.027],[.0132,.022,.0017,.025],[.0134,-.01,.0017,.025],[.0136,.036,.0017,.027],[.0138,.014,.0017,.025],[.014,-.018,.0017,.026],[.0143,.05,.0018,.028],[.0146,.002,.0018,.025],[.0149,.028,.0018,.026],[.0152,-.024,.0018,.026],[.0155,.018,.0019,.025],[.0158,.04,.0019,.027],[.0161,-.006,.0019,.025],[.0164,.024,.0019,.026],[.0167,-.032,.002,.027],[.017,.01,.002,.025],[.0175,.034,.002,.026],[.018,-.014,.0021,.026],[.0185,.016,.0021,.026],[.019,-.026,.0022,.027],[.0195,.028,.0022,.026],[.02,0,.0022,.026],[.0205,-.02,.0023,.027],
  [.0117,.107,.0015,.02],[.0113,.067,.0015,.02],[.0269,.09,.003,.02],[.0255,.068,.002,.02],[.0214,.06,.002,.02],[.0221,.052,.002,.02],[.0321,.052,.002,.02],[.032,.049,.002,.02],[.0341,.036,.002,.02],[.0356,.049,.002,.02],[.0372,.047,.002,.02],[.0393,.056,.002,.02],[.0448,.0915,.003,.055],[.045,.051,.003,.02],[.0552,.036,.002,.02],[.0541,.054,.002,.015],[.0604,.108,.005,.03],[.0601,.042,.002,.02],[.0314,.019,.002,.02],[.0314,-.01,.002,.02],[.0328,-.016,.002,.02],[.0331,-.031,.002,.02],[.0339,-.045,.002,.025],[.0397,-.0045,.002,.025],[.0342,-.081,.003,.03],[.0283,-.01,.002,.02],[.0295,-.013,.002,.02],[.0186,-.045,.002,.02],[.0207,-.043,.002,.02],[.0179,-.168,.002,.012],[.0183,-.182,.0015,.008],
];

const trunkMassSnps: Snp[] = [
  [.0058,.004,.0015,.025],[.0062,-.02,.0015,.027],[.0066,.026,.0016,.026],[.007,-.008,.0016,.025],[.0074,.04,.0016,.028],[.0078,.012,.0017,.025],[.0082,-.034,.0017,.028],[.0086,0,.0017,.025],[.009,.022,.0018,.025],[.0094,-.016,.0018,.025],[.0098,.034,.0018,.027],[.0102,.006,.0019,.025],[.0106,-.044,.0019,.029],[.011,.016,.0019,.025],[.0114,-.004,.002,.025],[.0118,.044,.002,.028],[.0122,-.026,.002,.026],[.0126,.01,.0021,.025],[.013,.028,.0021,.026],[.0134,-.01,.0021,.025],[.0138,.002,.0022,.025],[.0142,-.038,.0022,.028],[.0146,.036,.0022,.027],[.015,.018,.0023,.025],[.0155,-.018,.0023,.026],[.016,.006,.0023,.025],[.0165,-.05,.0024,.03],[.017,.03,.0024,.026],[.0175,-.006,.0024,.025],[.018,.014,.0025,.025],[.0186,-.028,.0025,.026],[.0192,.04,.0025,.027],[.0198,0,.0026,.025],[.0205,-.014,.0026,.026],[.0212,.024,.0026,.026],[.022,-.04,.0027,.028],[.0228,.01,.0027,.026],[.0236,.034,.0028,.027],[.0244,-.022,.0028,.026],[.0252,.004,.0029,.026],[.026,.02,.0029,.026],[.027,-.032,.003,.027],[.028,.042,.003,.028],[.029,-.008,.0031,.026],[.0302,.014,.0031,.026],
  [.0136,.059,.002,.025],[.0215,.05,.002,.02],[.0273,.046,.002,.02],[.0291,.048,.002,.02],[.0344,0,.004,.03],[.0303,-.043,.004,.02],[.0355,-.082,.003,.02],[.0339,-.193,.006,.035],[.0412,.0036,.004,.04],[.042,.098,.003,.04],[.0424,.05,.002,.04],[.0453,.107,.005,.055],[.0556,.089,.005,.025],[.0591,.121,.005,.05],[.0245,-.046,.003,.02],[.0215,-.054,.002,.02],[.0124,-.055,.002,.02],
];

const trunkPctSnps: Snp[] = [
  [.015,.008,.0018,.025],[.0153,-.02,.0018,.027],[.0156,.03,.0019,.026],[.0159,-.006,.0019,.025],[.0162,.045,.002,.028],[.0165,.014,.002,.025],[.0168,-.034,.002,.027],[.0171,.002,.002,.025],[.0174,.022,.0021,.025],[.0177,-.014,.0021,.025],[.018,.038,.0021,.027],[.0184,.008,.0022,.025],[.0188,-.044,.0022,.029],[.0192,.018,.0022,.025],[.0196,-.002,.0023,.025],[.02,.056,.0023,.03],[.0204,.01,.0023,.025],[.0208,-.024,.0024,.026],[.0212,.028,.0024,.026],[.0216,-.008,.0024,.025],[.022,.004,.0025,.025],[.0225,.04,.0025,.027],[.023,-.03,.0025,.027],[.0235,.016,.0026,.025],[.024,-.012,.0026,.025],[.0246,.026,.0026,.026],[.0252,-.04,.0027,.028],[.0258,.006,.0027,.025],[.0264,.048,.0028,.028],[.027,-.018,.0028,.026],[.0278,.02,.0029,.026],[.0286,-.006,.0029,.026],[.0294,.034,.003,.027],[.0302,-.026,.003,.027],[.031,.012,.0031,.026],[.032,.05,.0031,.028],[.033,-.012,.0032,.026],[.034,.024,.0032,.026],[.035,-.036,.0033,.028],[.0144,.062,.0018,.03],
  [.0455,.098,.002,.06],[.0434,-.054,.003,.025],[.0373,-.078,.002,.01],[.0465,.029,.002,.02],[.0479,.033,.002,.02],[.0445,.042,.002,.02],[.042,.058,.002,.015],[.0434,0,.002,.06],[.0537,-.013,.002,.015],[.0506,-.078,.003,.015],[.0459,-.167,.005,.08],[.0605,.052,.001,.01],[.0664,.097,.007,.02],[.0799,.122,.003,.045],[.0889,-.188,.007,.04],[.0373,.025,.002,.02],[.0318,.051,.002,.02],
];

const wholeFatSnps: Snp[] = [
  [.0135,.006,.0015,.025],[.0138,-.018,.0015,.027],[.0141,.03,.0016,.026],[.0144,-.004,.0016,.025],[.0147,.048,.0017,.029],[.015,.014,.0017,.025],[.0153,-.03,.0017,.027],[.0156,.002,.0018,.025],[.0159,.024,.0018,.025],[.0162,-.012,.0018,.025],[.0165,.038,.0019,.027],[.0168,.008,.0019,.025],[.0171,-.04,.0019,.028],[.0174,.018,.002,.025],[.0177,-.006,.002,.025],[.018,.058,.002,.03],[.0183,0,.002,.025],[.0186,-.022,.0021,.026],[.0189,.028,.0021,.026],[.0192,.004,.0021,.025],[.0196,.042,.0022,.027],[.02,-.014,.0022,.025],[.0204,.012,.0022,.025],[.0208,-.034,.0023,.027],[.0212,.034,.0023,.026],[.0216,-.002,.0023,.025],[.022,.02,.0024,.025],[.0225,-.026,.0024,.026],[.023,.05,.0024,.028],[.0235,.006,.0025,.025],[.024,-.01,.0025,.025],[.0246,.026,.0026,.026],[.0252,-.044,.0026,.028],[.0258,.014,.0026,.025],[.0264,.036,.0027,.027],[.027,-.018,.0027,.026],[.0278,.004,.0028,.026],[.0286,.022,.0028,.026],[.0294,-.03,.0029,.027],[.0302,.01,.0029,.026],[.0248,.062,.0026,.029],[.0162,.066,.0018,.03],
  [.0188,.069,.002,.02],[.0201,.062,.002,.02],[.025,.065,.002,.02],[.0343,.081,.003,.025],[.0361,.058,.002,.02],[.038,.035,.002,.02],[.032,.05,.002,.02],[.0423,.097,.003,.05],[.0431,.05,.002,.02],[.0439,.052,.002,.02],[.041,.037,.003,.02],[.0404,0,.004,.03],[.0466,.035,.002,.02],[.0472,-.013,.003,.02],[.0367,-.044,.002,.025],[.0308,-.078,.002,.02],[.0451,-.081,.004,.02],[.0414,-.168,.006,.06],[.0612,.052,.002,.02],[.0645,.096,.008,.03],[.0802,.122,.005,.05],[.0783,-.23,.009,.04],[.029,-.034,.002,.02],[.032,-.017,.002,.02],[.034,-.025,.002,.02],
];

const impedanceSnps: Snp[] = [
  [.013,-.002,.0015,.025],[.0133,-.024,.0015,.027],[.0136,.02,.0016,.026],[.0139,-.01,.0016,.025],[.0142,.036,.0016,.028],[.0145,.004,.0017,.025],[.0148,-.036,.0017,.027],[.0151,-.016,.0017,.025],[.0154,.012,.0018,.025],[.0157,-.004,.0018,.025],[.016,.028,.0018,.026],[.0163,-.028,.0019,.026],[.0166,0,.0019,.025],[.0169,-.046,.0019,.028],[.0172,.016,.002,.025],[.0175,-.012,.002,.025],[.0178,.04,.002,.028],[.0181,-.02,.002,.025],[.0184,.006,.0021,.025],[.0187,-.032,.0021,.026],[.019,.024,.0021,.026],[.0194,-.006,.0022,.025],[.0198,-.054,.0022,.029],[.0202,.01,.0022,.025],[.0206,-.018,.0023,.025],[.021,.032,.0023,.027],[.0214,-.002,.0023,.025],[.0218,-.038,.0024,.027],[.0222,.018,.0024,.025],[.0226,-.01,.0024,.025],[.023,.042,.0025,.028],[.0235,-.026,.0025,.026],[.024,.002,.0025,.025],[.0245,-.044,.0026,.027],[.025,.026,.0026,.026],[.0256,-.014,.0027,.025],[.0262,.008,.0027,.025],[.0268,-.03,.0028,.026],[.0274,.034,.0028,.027],[.028,-.006,.0029,.026],[.0288,-.05,.0029,.028],[.0296,.016,.003,.026],[.0304,-.022,.003,.026],[.0312,.004,.0031,.026],[.0145,-.06,.0017,.03],
  [.0197,.059,.002,.02],[.0241,.065,.002,.03],[.0241,.047,.002,.02],[.0245,.028,.002,.02],[.0367,.024,.003,.02],[.0363,.008,.002,.02],[.0417,.091,.003,.03],[.0423,.02,.004,.03],[.0407,-.021,.002,.04],[.0389,-.051,.002,.03],[.047,-.035,.002,.02],[.0501,-.051,.002,.02],[.0526,-.047,.002,.02],[.0555,.232,.004,.045],[.0577,.118,.004,.05],[.0608,-.13,.004,.05],[.0665,-.01,.003,.035],[.0813,.016,.006,.04],[.0241,-.104,.002,.02],[.0229,-.075,.002,.02],[.021,-.051,.002,.02],[.016,-.065,.002,.02],[.031,-.051,.002,.02],[.0323,-.035,.002,.02],
];

const glucoseSnps: Snp[] = [
  [.0142,.01,.0012,.015],[.0145,-.01,.0012,.016],[.0148,.03,.0012,.015],[.015,0,.0013,.015],[.0153,.045,.0013,.017],[.0155,.018,.0013,.015],[.0158,-.02,.0014,.016],[.016,.008,.0014,.015],[.0163,.038,.0014,.016],[.0166,.024,.0014,.015],[.0169,-.005,.0015,.015],[.0172,.052,.0015,.017],[.0175,.014,.0015,.015],[.0178,.032,.0015,.016],[.0181,.002,.0016,.015],[.0184,.022,.0016,.015],[.0188,.058,.0016,.018],[.0192,-.015,.0016,.016],[.0196,.04,.0017,.016],[.02,.012,.0017,.015],[.0205,.028,.0017,.016],[.021,-.022,.0018,.017],[.0215,.048,.0018,.017],[.022,.006,.0018,.015],[.0227,.034,.0019,.016],[.0234,.062,.0019,.018],[.0241,.018,.002,.016],[.0248,.044,.002,.017],[.0256,0,.002,.016],[.0264,.026,.0021,.016],
  [.0328,.148,.002,.015],[.0276,.103,.002,.01],[.0321,.081,.002,.015],[.0328,.059,.002,.02],[.0328,.05,.002,.02],[.0373,.05,.002,.015],[.0396,.103,.002,.015],[.0456,.138,.003,.02],[.0541,.154,.002,.02],[.0472,.073,.002,.025],[.0483,.088,.002,.02],[.0514,.076,.002,.035],[.0545,.06,.002,.04],[.0477,.057,.002,.02],[.0421,.039,.002,.015],[.0431,.031,.002,.015],[.0462,.016,.003,.02],[.0493,-.023,.002,.02],[.0561,-.0043,.005,.025],[.0601,.039,.003,.025],[.0648,.028,.002,.015],[.0714,.076,.005,.02],[.0818,.124,.004,.03],[.1048,.23,.009,.025],[.1083,.089,.002,.01],[.1542,.071,.001,.008],[.0334,-.047,.002,.01],[.0354,-.063,.002,.01],[.0266,-.006,.002,.015],[.023,-.032,.002,.015],
];

const fastGlucoseSnps: Snp[] = [
  [.0147,.1026,.001,.012],[.0188,.1218,.001,.012],[.0227,.1547,.002,.015],[.0353,.1675,.003,.03],[.0429,.1453,.006,.04],[.0292,.1038,.001,.008],[.0246,.0756,.001,.012],[.0238,.0628,.001,.01],[.0183,.0671,.002,.01],[.0206,.062,.001,.012],[.0264,.0671,.001,.01],[.0292,.0714,.001,.015],[.0292,.032,.001,.01],[.0315,.05,.001,.012],[.0322,.0556,.001,.01],[.0139,.0504,.002,.015],[.0166,.0521,.001,.01],[.0177,.0385,.002,.012],[.0227,.0406,.001,.01],[.0192,.0462,.001,.01],[.0127,.0333,.002,.01],[.0159,.0141,.001,.01],[.0166,.0073,.002,.01],[.0177,.0141,.001,.01],[.0264,.015,.002,.012],[.0203,-.0056,.001,.01],[.0215,-.0235,.002,.015],[.0605,.0897,.001,.015],[.0701,.0714,.002,.012],
];

const hba1cSnps: Snp[] = [
  [.006,.01,.003,.03],[.008,-.02,.003,.03],[.009,.04,.003,.032],[.01,0,.003,.03],[.011,.06,.003,.035],[.012,.02,.003,.03],[.013,-.04,.003,.032],[.014,.03,.003,.03],[.015,.005,.003,.03],[.016,.05,.003,.032],[.017,-.015,.003,.03],[.018,.07,.004,.035],[.019,.015,.004,.03],[.02,-.05,.004,.033],[.021,.035,.004,.03],[.022,0,.004,.03],[.023,.055,.004,.032],[.024,-.025,.004,.03],[.025,.025,.004,.03],[.026,.08,.004,.036],[.027,.01,.004,.03],[.028,-.06,.004,.034],[.029,.045,.004,.031],[.03,-.005,.004,.03],[.031,.065,.004,.033],[.032,.02,.004,.03],[.034,-.035,.005,.032],[.036,.04,.005,.031],[.038,0,.005,.03],[.04,.06,.005,.033],[.042,-.02,.005,.031],[.044,.03,.005,.031],[.046,.085,.005,.036],[.048,.01,.005,.031],[.05,-.045,.005,.033],[.052,.05,.005,.032],[.054,.02,.005,.031],[.056,-.01,.005,.031],[.02,.09,.004,.036],[.035,.075,.005,.034],
  [.0636,.366,.005,.03],[.0698,.157,.003,.015],[.052,.133,.003,.03],[.038,.113,.003,.02],[.0465,.091,.003,.02],[.0543,.073,.003,.02],[.093,.064,.003,.02],[.1047,.089,.003,.02],[.1047,.0714,.003,.02],[.1333,.0556,.003,.04],[.0729,.0467,.003,.02],[.0791,.0335,.003,.02],[.1023,-.006,.003,.02],[.124,.0176,.003,.04],[.1876,.23,.005,.04],[.1798,-.0705,.01,.05],[.3233,-.0265,.003,.025],[.0558,-.046,.003,.02],[.0442,-.074,.003,.02],[.0364,-.088,.003,.03],
];

const insulinSnps: Snp[] = [
  [.0207,.1046,.0021,.0195],[.0207,.0763,.0029,.04],[.0119,.036,.0019,.016],[.0138,.03,.0015,.015],[.0168,.0396,.0013,.015],[.0187,.0398,.0015,.015],[.0158,.0211,.0018,.01],[.0128,.0139,.0015,.015],[.0147,.0163,.0019,.01],[.0147,.0134,.0019,.012],[.0147,.0108,.0019,.015],[.0147,.0048,.0023,.01],[.0138,-.006,.0019,.015],[.0237,.0187,.0032,.02],
];

const hdlSnps: Snp[] = [
  [.009,-.004,.0015,.025],[.0095,-.028,.0015,.027],[.01,.018,.0015,.026],[.0105,-.014,.0016,.025],[.011,.032,.0016,.028],[.0115,.002,.0016,.025],[.012,-.04,.0017,.028],[.0125,-.008,.0017,.025],[.013,.012,.0017,.025],[.0135,-.022,.0018,.026],[.014,.026,.0018,.026],[.0145,-.002,.0018,.025],[.015,-.05,.0019,.029],[.0155,.008,.0019,.025],[.016,-.018,.0019,.025],[.0165,.038,.002,.028],[.017,-.006,.002,.025],[.0175,-.032,.002,.026],[.018,.016,.0021,.025],[.0185,-.012,.0021,.025],[.019,.028,.0021,.026],[.0195,-.026,.0022,.026],[.02,0,.0022,.025],[.021,-.044,.0022,.028],[.022,.02,.0023,.025],[.023,-.016,.0023,.025],[.024,.034,.0024,.027],[.025,-.004,.0024,.025],[.026,-.036,.0025,.027],[.027,.01,.0025,.025],[.028,-.02,.0026,.026],[.029,.024,.0026,.026],[.03,-.01,.0027,.026],[.0315,-.052,.0027,.029],[.033,.014,.0028,.026],[.0345,-.028,.0029,.026],[.036,.03,.0029,.027],[.0375,-.006,.003,.026],[.039,-.04,.003,.028],[.041,.008,.0031,.026],[.043,-.018,.0032,.026],[.045,.02,.0033,.027],[.047,-.03,.0034,.027],[.049,-.002,.0035,.026],[.013,.044,.0017,.028],
  [.0595,.09,.003,.06],[.0569,.035,.002,.03],[.0688,.0166,.002,.03],[.0699,.0097,.002,.03],[.0625,.0043,.002,.025],[.0743,-.0021,.002,.03],[.0717,-.043,.004,.04],[.058,-.0745,.003,.04],[.0524,-.059,.002,.03],[.0669,-.095,.004,.06],[.0822,-.0895,.003,.055],[.084,-.009,.002,.03],[.0848,-.0225,.002,.03],[.0866,-.028,.002,.03],[.0903,-.0145,.002,.03],[.0948,.0032,.002,.025],[.0959,-.0225,.002,.025],[.1078,-.0075,.003,.02],[.1208,-.036,.002,.015],[.1509,.0525,.006,.02],[.1721,-.0198,.003,.04],[.1732,-.0643,.004,.065],[.2123,-.053,.006,.04],[.2353,-.0027,.002,.01],[.0409,-.0048,.002,.03],[.0465,-.018,.002,.03],[.0494,-.0386,.002,.03],[.0401,-.061,.002,.03],[.0457,-.068,.002,.03],
];

const trigSnps: Snp[] = [
  [.012,.01,.002,.02],[.0125,-.015,.002,.022],[.013,.03,.002,.021],[.0135,-.002,.002,.02],[.014,.045,.002,.023],[.0145,.018,.002,.02],[.015,-.03,.002,.022],[.0155,.004,.002,.02],[.016,.025,.002,.02],[.0165,-.01,.002,.02],[.017,.038,.002,.022],[.0175,.012,.002,.02],[.018,-.042,.002,.024],[.0185,.02,.002,.02],[.019,-.005,.002,.02],[.0195,.052,.002,.024],[.02,.008,.002,.02],[.021,-.022,.002,.021],[.022,.032,.002,.021],[.023,0,.002,.02],[.024,.016,.002,.02],[.025,-.035,.003,.022],[.026,.042,.003,.022],[.027,.006,.003,.02],[.028,-.014,.003,.02],[.029,.026,.003,.021],[.03,-.026,.003,.021],[.031,.048,.003,.023],[.032,.012,.003,.021],[.033,-.006,.003,.02],[.034,.034,.003,.022],[.035,-.04,.003,.023],[.036,.02,.003,.021],[.037,.002,.003,.021],[.038,.05,.003,.024],[.04,-.018,.003,.021],[.042,.028,.003,.022],[.044,.008,.004,.021],[.046,-.03,.004,.022],[.048,.04,.004,.023],[.05,-.008,.004,.022],[.052,.018,.004,.022],
  [.0845,.228,.003,.04],[.0382,.1155,.002,.05],[.0157,.091,.002,.02],[.0135,.074,.002,.02],[.0315,.082,.002,.03],[.027,.08,.002,.02],[.0553,.085,.006,.025],[.071,.066,.001,.035],[.0733,.031,.008,.02],[.0921,.039,.006,.03],[.0957,.012,.004,.045],[.1047,.011,.002,.02],[.0818,-.0014,.002,.02],[.0863,0,.002,.02],[.1137,-.0115,.002,.015],[.1101,-.053,.007,.03],[.1115,-.103,.002,.02],[.1393,-.0149,.002,.02],[.147,.022,.003,.035],[.1528,.021,.002,.035],[.2126,.078,.002,.02],[.2458,.054,.002,.04],[.2809,.0088,.002,.02],[.0279,-.077,.002,.02],[.0584,-.0014,.003,.02],[.0517,-.0216,.002,.02],[.054,-.035,.002,.02],[.0427,-.035,.002,.02],
];

const apoaSnps: Snp[] = [
  [.012,.002,.0018,.028],[.0125,-.022,.0018,.03],[.013,.026,.0019,.029],[.0135,-.008,.0019,.028],[.014,.04,.002,.031],[.0145,.012,.002,.028],[.015,-.034,.002,.03],[.0155,-.002,.0021,.028],[.016,.02,.0021,.028],[.0165,-.016,.0021,.028],[.017,.034,.0022,.03],[.0175,.006,.0022,.028],[.018,-.044,.0022,.031],[.0185,.016,.0023,.028],[.019,-.006,.0023,.028],[.0195,.046,.0023,.032],[.02,0,.0024,.028],[.0205,-.026,.0024,.029],[.021,.024,.0024,.029],[.0215,-.012,.0025,.028],[.022,.008,.0025,.028],[.0225,-.038,.0025,.03],[.023,.03,.0026,.029],[.0235,-.004,.0026,.028],[.024,.014,.0026,.028],[.0245,-.02,.0027,.029],[.025,.038,.0027,.03],[.026,.002,.0027,.028],[.027,-.03,.0028,.029],[.028,.018,.0028,.029],[.029,-.01,.0029,.028],[.03,.028,.0029,.029],[.031,-.046,.003,.031],[.032,.006,.003,.029],[.033,-.018,.0031,.029],[.034,.036,.0031,.03],[.035,-.002,.0032,.029],[.036,-.034,.0032,.03],[.037,.012,.0033,.029],[.038,-.024,.0033,.029],[.039,.022,.0034,.03],[.04,-.008,.0034,.029],[.041,-.04,.0035,.03],[.042,.004,.0035,.029],[.0135,-.048,.0019,.031],
  [.0621,.091,.003,.05],[.0601,.0253,.002,.04],[.0475,.028,.002,.02],[.0508,.008,.002,.02],[.0553,.009,.002,.02],[.064,.0038,.002,.02],[.055,-.007,.002,.03],[.0525,-.024,.002,.02],[.0563,-.0366,.002,.03],[.0595,-.042,.002,.03],[.049,-.074,.004,.035],[.0751,.0102,.002,.02],[.0804,.0038,.002,.02],[.0827,.0172,.002,.02],[.0847,.0226,.002,.02],[.0879,-.015,.002,.02],[.0927,-.0355,.002,.02],[.098,-.0097,.002,.02],[.0997,-.021,.002,.02],[.103,-.0134,.002,.02],[.1106,-.0177,.002,.02],[.1269,-.0081,.002,.015],[.143,-.0204,.002,.05],[.1462,-.0242,.002,.03],[.1437,-.065,.003,.07],[.1827,-.0032,.002,.01],[.0701,-.0957,.004,.05],[.0741,-.089,.002,.06],[.0284,-.1038,.002,.02],[.0357,-.0677,.002,.025],[.0319,-.061,.002,.02],[.042,.0468,.002,.03],[.0307,.0457,.002,.03],
];

const shbgSnps: Snp[] = [
  [.01,.004,.002,.03],[.0108,-.024,.002,.032],[.0116,.028,.002,.031],[.0124,-.01,.0021,.03],[.0132,.046,.0021,.034],[.014,.012,.0021,.03],[.0148,-.04,.0022,.033],[.0156,-.002,.0022,.03],[.0164,.02,.0022,.03],[.0172,-.018,.0023,.03],[.018,.036,.0023,.032],[.0188,.006,.0023,.03],[.0196,-.056,.0024,.034],[.0204,.016,.0024,.03],[.0212,-.008,.0024,.03],[.022,.056,.0025,.035],[.0228,0,.0025,.03],[.0236,-.03,.0025,.031],[.0244,.026,.0026,.031],[.0252,-.014,.0026,.03],[.026,.008,.0026,.03],[.0268,-.046,.0027,.033],[.0276,.032,.0027,.031],[.0284,-.004,.0027,.03],[.0292,.014,.0028,.03],[.03,-.026,.0028,.031],[.031,.042,.0029,.033],[.032,.002,.0029,.03],[.033,-.036,.003,.032],[.034,.018,.003,.031],[.035,-.012,.003,.03],[.036,.03,.0031,.032],[.037,-.064,.0031,.035],[.038,.004,.0032,.031],[.039,-.02,.0032,.031],[.04,.024,.0033,.032],[.0415,-.006,.0033,.031],[.043,-.042,.0034,.033],[.0445,.01,.0034,.031],[.046,.038,.0035,.033],[.0475,-.016,.0035,.031],[.049,.016,.0036,.032],[.0125,-.07,.0021,.035],[.0175,.064,.0023,.035],[.027,.05,.0027,.034],
  [.0725,.1027,.002,.015],[.0725,.081,.002,.025],[.071,.056,.002,.03],[.069,.0338,.002,.03],[.0675,.017,.002,.03],[.07,-.0324,.002,.04],[.0525,.064,.002,.04],[.0515,.086,.002,.03],[.0575,.054,.002,.03],[.061,.0135,.002,.03],[.055,.0068,.002,.03],[.06,-.0385,.002,.03],[.054,-.1236,.005,.04],[.09,.0115,.002,.02],[.114,0,.002,.02],[.129,-.002,.002,.03],[.1225,-.0858,.002,.05],[.1525,.0223,.004,.02],[.1675,-.037,.002,.03],[.179,-.0135,.002,.04],[.1315,-.225,.006,.045],[.2035,-.128,.002,.055],[.214,-.0385,.002,.03],[.0825,-.0155,.002,.02],[.03,-.056,.002,.03],[.0375,-.0425,.002,.03],
];

const igfSnps: Snp[] = [
  [.0142,.002,.002,.02],[.0148,-.018,.002,.022],[.0154,.022,.002,.021],[.016,-.008,.0021,.02],[.0166,.034,.0021,.023],[.0172,.01,.0021,.02],[.0178,-.028,.0022,.022],[.0184,0,.0022,.02],[.019,.018,.0022,.02],[.0196,-.014,.0023,.02],[.0202,.028,.0023,.022],[.0208,.004,.0023,.02],[.0214,-.036,.0024,.023],[.022,.014,.0024,.02],[.0226,-.004,.0024,.02],[.0232,.038,.0025,.024],[.0238,.006,.0025,.02],[.0244,-.022,.0025,.021],[.025,.024,.0026,.021],[.0256,-.01,.0026,.02],[.0262,.002,.0026,.02],[.0268,-.032,.0027,.022],[.0274,.03,.0027,.022],[.028,-.002,.0027,.02],[.0286,.012,.0028,.02],[.0292,-.018,.0028,.021],[.0298,.02,.0028,.021],[.0305,-.04,.0029,.023],[.0312,.008,.0029,.021],[.0319,-.008,.003,.021],[.0326,.026,.003,.022],[.0333,-.026,.003,.022],[.034,.004,.0031,.021],[.0348,.016,.0031,.021],[.0356,-.014,.0032,.021],[.0364,.034,.0032,.023],[.0372,-.03,.0033,.022],[.038,0,.0033,.021],[.0388,.02,.0034,.022],[.0396,-.02,.0034,.022],[.0404,.01,.0035,.021],[.0412,-.036,.0035,.023],[.042,.026,.0036,.022],[.0175,.04,.0022,.024],[.0255,-.04,.0026,.023],
  [.053,.104,.002,.015],[.0226,.0587,.002,.025],[.0344,.0268,.002,.03],[.0437,.05,.002,.03],[.053,.0515,.002,.03],[.0511,.0268,.002,.03],[.0456,.0204,.002,.03],[.0567,.0374,.002,.02],[.0574,.0149,.002,.03],[.0611,-.0072,.002,.02],[.0715,.0119,.002,.03],[.0715,.0085,.002,.025],[.0789,.0362,.002,.04],[.0789,-.0081,.002,.02],[.0844,.0404,.002,.03],[.0863,-.0136,.002,.02],[.1011,.0217,.003,.04],[.1067,-.0391,.004,.05],[.1152,0,.002,.04],[.0722,-.0498,.004,.05],[.0511,-.0881,.002,.045],[.1419,.0702,.005,.03],[.1596,.0217,.002,.05],[.0363,-.0328,.002,.03],[.0289,-.0413,.002,.03],[.0381,-.0455,.002,.03],
];

const walkSnps: Snp[] = [
  [.00856,.0555,.0007,.015],[.0087,.0452,.0009,.012],[.0091,.0645,.001,.015],[.0092,.0597,.001,.02],[.0092,.049,.001,.012],[.0099,.0652,.0012,.015],[.0101,.042,.001,.012],[.0103,.0468,.001,.015],[.0104,.0458,.001,.012],[.0095,.0339,.001,.02],[.0099,.0339,.001,.015],[.0106,.0329,.001,.015],[.0094,.0345,.001,.012],[.0089,.0232,.0009,.015],[.0101,.0232,.0015,.015],[.0089,.0161,.0009,.015],[.0101,.0161,.0015,.015],[.0091,.0103,.0009,.012],[.0101,.0103,.0012,.012],[.0101,.0039,.001,.015],[.0105,.0032,.0012,.012],[.0091,0,.001,.015],[.0115,.0058,.0013,.012],[.0114,.0426,.0015,.012],[.0135,.0361,.0012,.012],[.014,.0484,.002,.03],[.014,.0703,.0015,.025],[.017,.0042,.0025,.04],[.0255,-.0484,.0025,.055],
];

const fvcSnps: Snp[] = [
  [.013,-.002,.0012,.022],[.0133,-.022,.0012,.024],[.0136,.014,.0013,.023],[.0139,-.01,.0013,.022],[.0142,.024,.0013,.024],[.0145,.004,.0014,.022],[.0148,-.034,.0014,.025],[.0151,-.004,.0014,.022],[.0154,.01,.0015,.022],[.0157,-.016,.0015,.022],[.016,.02,.0015,.023],[.0163,-.006,.0016,.022],[.0166,-.044,.0016,.026],[.0169,.006,.0016,.022],[.0172,-.012,.0017,.022],[.0175,.028,.0017,.024],[.0178,-.002,.0017,.022],[.0181,-.026,.0018,.023],[.0184,.016,.0018,.023],[.0187,-.008,.0018,.022],[.019,.002,.0019,.022],[.0194,-.038,.0019,.025],[.0198,.012,.0019,.022],[.0202,-.018,.002,.022],[.0206,.022,.002,.023],[.021,-.004,.002,.022],[.0214,-.03,.0021,.024],[.0218,.008,.0021,.022],[.0222,-.014,.0021,.022],[.0226,.018,.0022,.023],[.023,-.05,.0022,.026],[.0235,0,.0022,.022],[.024,-.022,.0023,.023],[.0245,.01,.0023,.022],[.025,-.008,.0023,.022],[.0255,-.04,.0024,.025],[.026,.004,.0024,.022],[.0265,-.016,.0025,.023],[.027,-.03,.0025,.024],[.0275,-.002,.0025,.022],[.0205,-.058,.002,.027],[.0158,.03,.0015,.024],[.0185,-.06,.0018,.027],[.0225,.03,.0021,.024],[.0252,-.052,.0024,.026],
  [.0346,.099,.003,.045],[.0265,.0757,.002,.025],[.0256,.066,.002,.03],[.0262,.046,.002,.03],[.0205,.044,.002,.02],[.0188,.0368,.002,.02],[.0342,.022,.002,.03],[.0372,.019,.002,.04],[.0397,.0044,.002,.03],[.0408,.0096,.002,.03],[.0417,.0154,.002,.03],[.0329,-.0015,.002,.02],[.032,-.0125,.002,.02],[.0337,-.042,.002,.03],[.0374,-.048,.002,.03],[.0442,-.047,.002,.04],[.0291,-.054,.002,.02],[.0305,-.058,.002,.02],[.024,-.082,.002,.02],[.0228,-.064,.002,.02],[.0465,-.132,.006,.04],[.0618,-.0147,.002,.04],[.0679,.0059,.004,.03],[.0673,-.233,.006,.04],[.084,-.086,.005,.04],[.0158,-.064,.002,.02],
];

const fev1Snps: Snp[] = [
  [.0145,.004,.001,.02],[.0148,-.02,.001,.022],[.0151,.024,.0011,.021],[.0154,-.008,.0011,.02],[.0157,.036,.0011,.022],[.016,.012,.0012,.02],[.0163,-.032,.0012,.022],[.0166,0,.0012,.02],[.0169,.018,.0013,.02],[.0172,-.014,.0013,.02],[.0175,.03,.0013,.021],[.0178,.006,.0014,.02],[.0181,-.042,.0014,.023],[.0184,.016,.0014,.02],[.0187,-.004,.0015,.02],[.019,.042,.0015,.022],[.0193,.008,.0015,.02],[.0196,-.024,.0016,.021],[.0199,.022,.0016,.021],[.0202,-.01,.0016,.02],[.0205,.002,.0017,.02],[.0208,-.036,.0017,.022],[.0211,.028,.0017,.021],[.0214,-.002,.0018,.02],[.0217,.014,.0018,.02],[.022,-.018,.0018,.021],[.0224,.034,.0019,.022],[.0228,.004,.0019,.02],[.0232,-.028,.0019,.021],[.0236,.018,.002,.021],[.024,-.006,.002,.02],[.0244,-.048,.002,.023],[.0248,.01,.0021,.02],[.0252,.026,.0021,.021],[.0256,-.014,.0021,.021],[.026,.002,.0022,.02],[.0264,-.03,.0022,.022],[.0268,.012,.0022,.021],[.0178,.048,.0014,.023],[.0158,-.046,.0011,.023],[.0205,-.054,.0017,.024],[.0232,.04,.0019,.022],[.0148,.028,.001,.021],[.0188,-.05,.0015,.023],[.022,.044,.0018,.022],
  [.0367,.0328,.004,.04],[.0296,.0299,.001,.015],[.0314,.0239,.001,.015],[.0317,.009,.001,.015],[.029,-.006,.001,.015],[.0277,-.0299,.002,.02],[.0269,-.0496,.002,.02],[.03,-.0567,.002,.02],[.0303,-.0776,.001,.02],[.0344,-.0478,.001,.02],[.0367,-.0466,.001,.02],[.0519,-.0137,.002,.06],[.0543,.006,.004,.04],[.0729,-.0854,.006,.05],[.053,-.2299,.006,.04],[.0232,-.0567,.002,.02],[.0191,-.0496,.002,.02],[.0157,-.0496,.002,.02],
];

const snpSets: Snp[][] = [
  [...waistCore, ...waistSnps], whrSnps, [...weightCore, ...weightSnps], [...sittingCore, ...sittingSnps], [...standingCore, ...standingSnps], healthSnps,
  [...bodyFatCore, ...bodyFatSnps], [...bmiCore, ...bmiSnps], [...trunkMassCore, ...trunkMassSnps], [...trunkPctCore, ...trunkPctSnps], [...wholeFatCore, ...wholeFatSnps], [...impedanceCore, ...impedanceSnps],
  [...glucoseCore, ...glucoseSnps], fastGlucoseSnps, [...hba1cCore, ...hba1cSnps], insulinSnps, [...hdlCore, ...hdlSnps], [...trigCore, ...trigSnps],
  [...apoaCore, ...apoaSnps], [...shbgCore, ...shbgSnps], [...igfCore, ...igfSnps], walkSnps, [...fvcCore, ...fvcSnps], [...fev1Core, ...fev1Snps],
];

const methods = ["Inverse variance weighted", "MR Egger", "Weighted median"];
const methodColors = ["#a6cee3", "#1f78b4", "#b2df8a"];
const methodFits = [ivwFits, eggerFits, medianFits];

// page geometry (plot panel edges)
const PLOT_LEFT = [22, 315, 605, 895, 1184, 1474];
const PLOT_TOP = [22, 281, 534, 790];
const PLOT_H = [214, 205, 210, 209];
const TITLE_Y = [10, 264, 512, 773];
const PLOT_W = 254;
const AXIS_W = 23;
const FONT = "'Liberation Sans', Arial, sans-serif";

function minorValues(ticks: number[], domain: [number, number]) {
  const step = ticks.length > 1 ? ticks[1] - ticks[0] : 0;
  const out: number[] = [];
  if (!step) return out;
  for (let k = -1; k < ticks.length; k++) {
    const v = (k < 0 ? ticks[0] - step : ticks[k]) + step / 2;
    if (v > domain[0] && v < domain[1]) out.push(v);
  }
  return out;
}

const Dot = (props: any) => <circle cx={props.cx} cy={props.cy} r={2.3} fill="#000" />;

function MrPanel({ i }: { i: number }) {
  const col = i % 6;
  const row = Math.floor(i / 6);
  const xd = xDomains[i];
  const yd = yDomains[i];
  const data = snpSets[i].map(([x, y, sx, sy]) => ({ x, y, sx, sy }));
  const w = AXIS_W + PLOT_W + 4;
  const h = 4 + PLOT_H[row] + 20;
  return (
    <>
      <div
        style={{
          position: "absolute",
          left: PLOT_LEFT[col] - AXIS_W,
          top: TITLE_Y[row] - 12,
          width: w,
          textAlign: "center",
          fontSize: 20,
          lineHeight: "24px",
          color: "#000",
          whiteSpace: "nowrap",
        }}
      >
        {titles[i]}
      </div>
      <div style={{ position: "absolute", left: PLOT_LEFT[col] - AXIS_W, top: PLOT_TOP[row] - 4 }}>
        <ComposedChart width={w} height={h} margin={{ top: 4, right: 4, bottom: 0, left: 0 }}>
          <CartesianGrid fill="#EBEBEB" stroke="#ffffff" strokeWidth={1.1} />
          <CartesianGrid
            fill="none"
            stroke="#ffffff"
            strokeWidth={0.5}
            horizontalValues={minorValues(yTicks[i], yd)}
            verticalValues={minorValues(xTicks[i], xd)}
          />
          <XAxis
            type="number"
            dataKey="x"
            domain={xd}
            ticks={xTicks[i]}
            interval={0}
            allowDataOverflow
            axisLine={false}
            tickSize={2}
            tickMargin={1}
            tickLine={{ stroke: "#333333", strokeWidth: 0.6 }}
            tick={{ fontSize: 5, fill: "#4d4d4d" }}
            tickFormatter={(v: number) => v.toFixed(xDigits[i])}
            height={20}
            label={{ value: `SNP effect on ${exposureLabels[i]}`, position: "insideBottom", offset: 3, fontSize: 6, fill: "#000" }}
          />
          <YAxis
            type="number"
            dataKey="y"
            domain={yd}
            ticks={yTicks[i]}
            interval={0}
            allowDataOverflow
            axisLine={false}
            tickSize={2}
            tickMargin={1}
            tickLine={{ stroke: "#333333", strokeWidth: 0.6 }}
            tick={{ fontSize: 5, fill: "#4d4d4d" }}
            tickFormatter={(v: number) => v.toFixed(yDigits[i])}
            width={AXIS_W}
            label={{ value: outcomeLabel, angle: -90, position: "insideLeft", offset: 4, fontSize: 6, fill: "#000", style: { textAnchor: "middle" } }}
          />
          <Scatter data={data} shape={Dot} isAnimationActive={false}>
            <ErrorBar dataKey="sx" direction="x" width={0} stroke="#adadad" strokeWidth={0.6} isAnimationActive={false} />
            <ErrorBar dataKey="sy" direction="y" width={0} stroke="#adadad" strokeWidth={0.6} isAnimationActive={false} />
          </Scatter>
          {methodFits.map((fits, m) => {
            const [b, a] = fits[i];
            return (
              <ReferenceLine
                key={methods[m]}
                segment={[
                  { x: xd[0], y: a + b * xd[0] },
                  { x: xd[1], y: a + b * xd[1] },
                ]}
                stroke={methodColors[m]}
                strokeWidth={1.5}
                ifOverflow="hidden"
              />
            );
          })}
        </ComposedChart>
      </div>
    </>
  );
}

function MethodLegend() {
  const keys = [
    { m: 0, x: 1763, y: 55, tx: 1783 },
    { m: 2, x: 1872, y: 55, tx: 1893 },
    { m: 1, x: 1763, y: 72, tx: 1783 },
  ];
  return (
    <svg style={{ position: "absolute", left: 0, top: 0 }} width={1949} height={100} pointerEvents="none">
      <text x={1763} y={48} fontSize={8} fill="#000" fontFamily={FONT}>MR Test</text>
      {keys.map((k) => (
        <g key={k.m}>
          <rect x={k.x} y={k.y} width={15} height={16} fill="#F2F2F2" />
          <line x1={k.x + 1} y1={k.y + 15} x2={k.x + 14} y2={k.y + 1} stroke={methodColors[k.m]} strokeWidth={1.5} />
          <text x={k.tx} y={k.y + 10.5} fontSize={6.5} fill="#1a1a1a" fontFamily={FONT}>{methods[k.m]}</text>
        </g>
      ))}
    </svg>
  );
}

export default function App() {
  return (
    <div
      style={{
        position: "absolute",
        left: 0,
        top: 0,
        width: 1949,
        height: 1018,
        background: "#ffffff",
        fontFamily: FONT,
        overflow: "hidden",
      }}
    >
      {titles.map((_, i) => (
        <MrPanel key={i} i={i} />
      ))}
      <MethodLegend />
    </div>
  );
}
